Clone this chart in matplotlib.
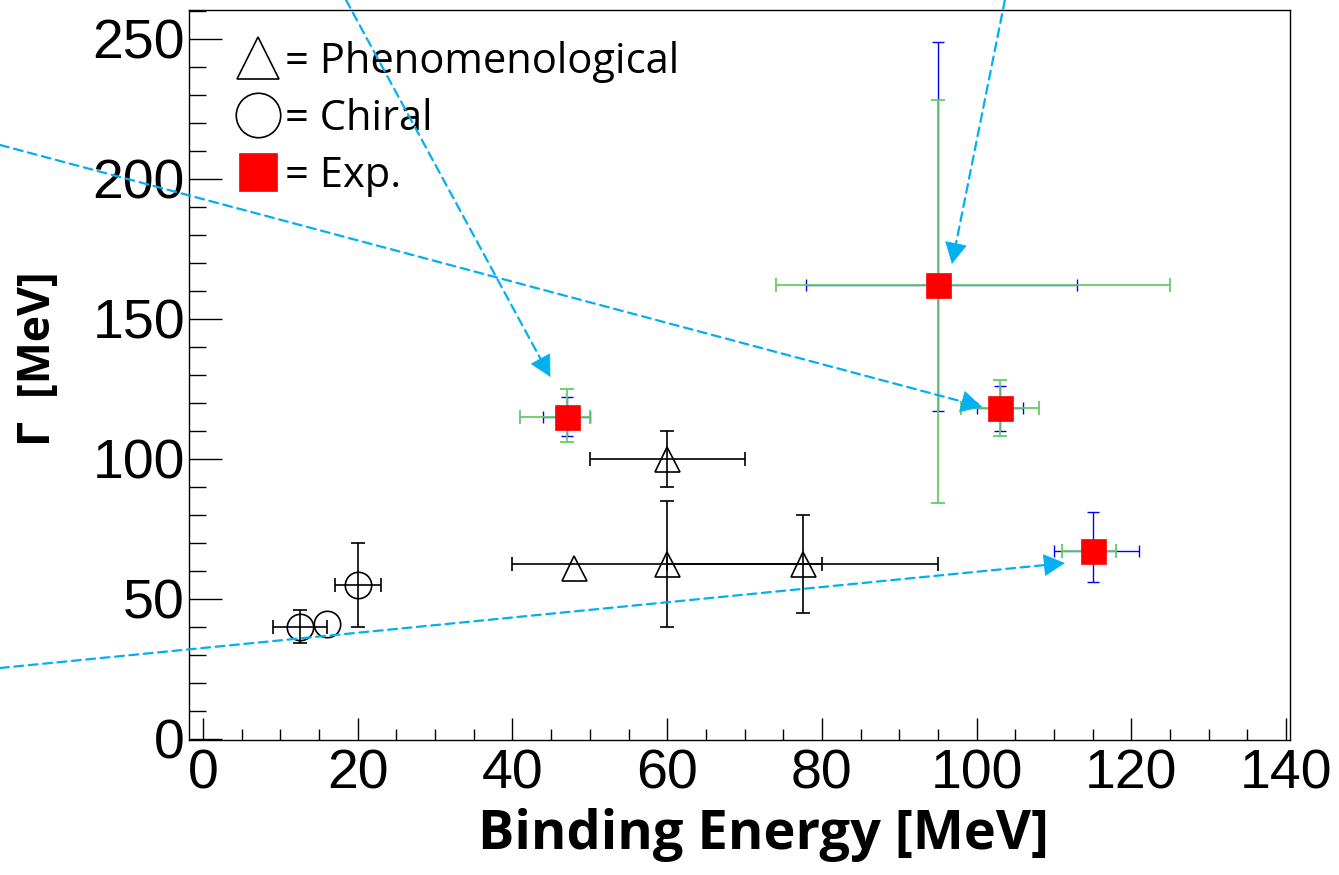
import numpy as np
import matplotlib
matplotlib.use("Agg")
import matplotlib.pyplot as plt
from matplotlib.lines import Line2D

# ---------------- data ----------------
# Phenomenological predictions (open triangles)
ph_x = np.array([48.0, 60.0, 60.0, 77.5])
ph_y = np.array([61.0, 100.0, 62.5, 62.5])
ph_xerr = np.array([0.0, 10.0, 20.0, 17.5])
ph_yerr = np.array([0.0, 10.0, 22.5, 17.5])

# Chiral predictions (open circles)
ch_x = np.array([12.5, 16.0, 20.0])
ch_y = np.array([40.0, 41.0, 55.0])
ch_xerr = np.array([3.5, 0.0, 3.0])
ch_yerr = np.array([6.0, 0.0, 15.0])

# Experiments (red squares): E15, E27, DISTO, FINUDA
ex_x = np.array([47.0, 95.0, 103.0, 115.0])
ex_y = np.array([115.0, 162.0, 118.0, 67.0])
stat_x_lo = np.array([3.0, 17.0, 3.0, 5.0])
stat_x_hi = np.array([3.0, 18.0, 3.0, 6.0])
stat_y_lo = np.array([7.0, 45.0, 8.0, 11.0])
stat_y_hi = np.array([7.0, 87.0, 8.0, 14.0])
syst_x_lo = np.array([6.0, 21.0, 5.0, 4.0])
syst_x_hi = np.array([3.0, 30.0, 5.0, 3.0])
syst_y_lo = np.array([9.0, 78.0, 10.0, 3.0])
syst_y_hi = np.array([10.0, 66.0, 10.0, 2.0])

legend_labels = ["= Phenomenological", "= Chiral", "= Exp."]
x_ticks = [0, 20, 40, 60, 80, 100, 120, 140]
y_ticks = [0, 50, 100, 150, 200, 250]

# arrow tips (data) and tails (figure fraction)
arrow_tips = [(44.9, 129.2), (96.8, 169.6), (100.7, 118.5), (111.4, 62.7)]
arrow_tails = [(0.2584, 1.0), (0.7505, 1.0), (0.0, 0.8343), (0.0, 0.2366)]

# ---------------- figure ----------------
fig = plt.figure(figsize=(13.39, 8.75), dpi=100)
ax = fig.add_axes([0.1412, 0.1543, 0.8222, 0.8343])

BLACK = "black"
BLUE = "#0000ff"
GREEN = "#66cc66"
RED = "#ff0000"
CYAN = "#00b0f0"

# Axes limits first (needed for arrow geometry)
ax.set_xlim(-1.8, 140.5)
ax.set_ylim(-0.5, 260.3)

# Black theory error bars (only where non-zero)
m = (ph_xerr > 0) | (ph_yerr > 0)
ax.errorbar(ph_x[m], ph_y[m], xerr=ph_xerr[m], yerr=ph_yerr[m], fmt="none",
            ecolor=BLACK, elinewidth=1.2, capsize=5, capthick=1.2, zorder=2)
m = (ch_xerr > 0) | (ch_yerr > 0)
ax.errorbar(ch_x[m], ch_y[m], xerr=ch_xerr[m], yerr=ch_yerr[m], fmt="none",
            ecolor=BLACK, elinewidth=1.2, capsize=5, capthick=1.2, zorder=2)
ax.plot(ph_x, ph_y, ls="none", marker="^", ms=18, mfc="none", mec=BLACK, mew=1.2, zorder=3)
ax.plot(ch_x, ch_y, ls="none", marker="o", ms=19, mfc="none", mec=BLACK, mew=1.2, zorder=3)

# Experimental stat (blue) then syst (green)
ax.errorbar(ex_x, ex_y, xerr=[stat_x_lo, stat_x_hi], yerr=[stat_y_lo, stat_y_hi],
            fmt="none", ecolor=BLUE, elinewidth=1.0, capsize=4, capthick=1.0, zorder=4)
ax.errorbar(ex_x, ex_y, xerr=[syst_x_lo, syst_x_hi], yerr=[syst_y_lo, syst_y_hi],
            fmt="none", ecolor=GREEN, elinewidth=1.3, capsize=5, capthick=1.3, zorder=5)
ax.plot(ex_x, ex_y, ls="none", marker="s", ms=18, mfc=RED, mec=RED, mew=0.5, zorder=6)

# Arrows: dashed shaft + solid filled head
HEAD_PX = 20.0
for tip, tail in zip(arrow_tips, arrow_tails):
    tip_d = ax.transData.transform(tip)
    tail_d = fig.transFigure.transform(tail)
    u = (tip_d - tail_d) / np.hypot(*(tip_d - tail_d))
    ax.annotate("", xy=tip, xycoords="data", xytext=tail, textcoords="figure fraction",
                arrowprops=dict(arrowstyle="-", color=CYAN, lw=1.6,
                                linestyle=(0, (4, 2.5)), shrinkA=0, shrinkB=HEAD_PX * 0.6),
                annotation_clip=False, zorder=8)
    ax.annotate("", xy=tip, xycoords="data",
                xytext=(-u[0] * HEAD_PX, -u[1] * HEAD_PX), textcoords="offset pixels",
                arrowprops=dict(arrowstyle="-|>,head_length=0.95,head_width=0.5",
                                color=CYAN, lw=0.5, shrinkA=0, shrinkB=0,
                                mutation_scale=15),
                annotation_clip=False, zorder=8)

# Ticks
ax.set_xticks(x_ticks)
ax.set_yticks(y_ticks)
ax.set_xticks(np.arange(0, 141, 5), minor=True)
ax.set_yticks(np.arange(0, 261, 10), minor=True)
tick_font = dict(family="Liberation Sans", size=40)
ax.set_xticklabels([str(t) for t in x_ticks], fontdict=tick_font)
ax.set_yticklabels([str(t) for t in y_ticks], fontdict=tick_font)
ax.tick_params(axis="x", which="major", direction="in", length=16, width=1.0, pad=6)
ax.tick_params(axis="x", which="minor", direction="in", length=8, width=1.0)
ax.tick_params(axis="y", which="major", direction="in", length=24, width=1.0, pad=3)
ax.tick_params(axis="y", which="minor", direction="in", length=12, width=1.0)
for s in ax.spines.values():
    s.set_linewidth(1.0)

ax.set_xlabel("Binding Energy [MeV]", family="Open Sans", weight="bold", size=39, va="center")
ax.xaxis.set_label_coords(0.522, -0.130)
ax.set_ylabel("Γ  [MeV]", family="Open Sans", weight="bold", size=32, va="center")
ax.yaxis.set_label_coords(-0.137, 0.522)

handles = [
    Line2D([], [], ls="none", marker="^", ms=30, mfc="none", mec=BLACK, mew=1.2),
    Line2D([], [], ls="none", marker="o", ms=32, mfc="none", mec=BLACK, mew=1.2),
    Line2D([], [], ls="none", marker="s", ms=27, mfc=RED, mec=RED, mew=0.5),
]
leg = ax.legend(handles, legend_labels, loc="upper left", bbox_to_anchor=(0.019, 0.992),
                frameon=False, prop=dict(family="Open Sans", size=30),
                handlelength=1.1, handletextpad=0.1, labelspacing=0.36, borderpad=0.1)

fig.savefig("out.png", dpi=100, facecolor="white")
